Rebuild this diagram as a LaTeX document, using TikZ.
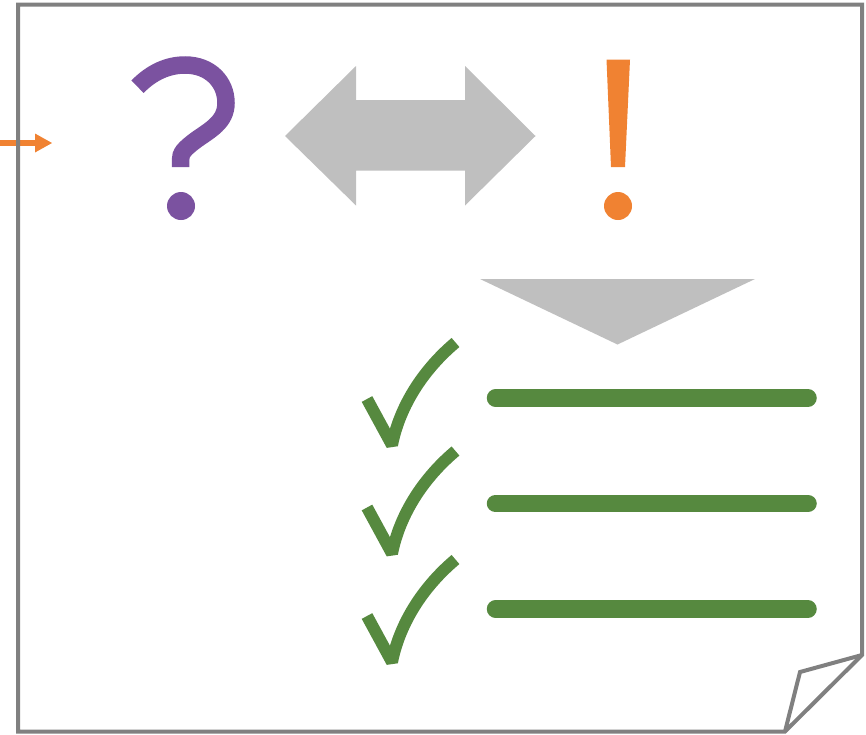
\documentclass[tikz,border=0pt]{standalone}
\definecolor{pagegraycol}{RGB}{128,128,128}
\definecolor{lightgraycol}{RGB}{191,191,191}
\definecolor{greencol}{RGB}{86,137,63}
\definecolor{orangecol}{RGB}{240,130,50}
\definecolor{purplecol}{RGB}{123,82,160}
\begin{document}
\begin{tikzpicture}[x=1pt,y=-1pt,
  pagegray/.style={draw=pagegraycol,line width=4pt,line join=miter},
  arrowgray/.style={fill=lightgraycol,draw=none},
  checkstroke/.style={draw=greencol,line width=12pt,line join=bevel,line cap=butt},
  barstroke/.style={draw=greencol,line width=17.5pt,line cap=round},
  orangeink/.style={fill=orangecol,draw=none},
  purpleink/.style={fill=purplecol,draw=none}
]
\useasboundingbox (0,0) rectangle (866,734);

% orange incoming arrow
\coordinate (arrstart) at (0,143);
\coordinate (arrbase) at (36,143);
\draw[draw=orangecol,line width=5.5pt] (arrstart) -- (arrbase);
\fill[orangeink] (35,133.5) -- (52,143) -- (35,152.5) -- cycle;

% page with folded corner
\draw[pagegray] (18,4.5) -- (862,4.5) -- (862,655) -- (785,731.5) -- (18,731.5) -- cycle;
\draw[pagegray] (785,731.5) -- (800,672) -- (862,655);

% question mark
\draw[draw=purplecol,line width=17.5pt,line cap=butt]
  (137.5,86.7) .. controls (152,72) and (168,65) .. (185,65)
  .. controls (210,65) and (226,82) .. (226,103)
  .. controls (226,122) and (210,130) .. (196,140)
  .. controls (184,149) and (180.5,153) .. (180.5,160) -- (180.5,167);
\fill[purpleink] (181,206) circle (14);

% exclamation mark
\fill[orangeink] (606.5,59.5) -- (630,59.5) -- (625,167) -- (611,167) -- cycle;
\fill[orangeink] (618,206) circle (14);

% double arrow
\fill[arrowgray] (285,136) -- (356,66) -- (356,100) -- (465,100) -- (465,66) -- (535.5,136)
  -- (465,205.5) -- (465,170.5) -- (356,170.5) -- (356,205.5) -- cycle;

% down triangle
\fill[arrowgray] (480,279) -- (755,279) -- (617.5,344.5) -- cycle;

% check marks and bars
\foreach \dy in {0,108.5,217}{
  \begin{scope}[yshift=-\dy pt]
    \draw[checkstroke] (367,399) -- (392,445)
      .. controls (400,405) and (424,369) .. (455.5,342.5);
  \end{scope}
}
\draw[barstroke] (495.5,398) -- (808,398);
\draw[barstroke] (495.5,503.5) -- (808,503.5);
\draw[barstroke] (495.5,609) -- (808,609);
\end{tikzpicture}
\end{document}
